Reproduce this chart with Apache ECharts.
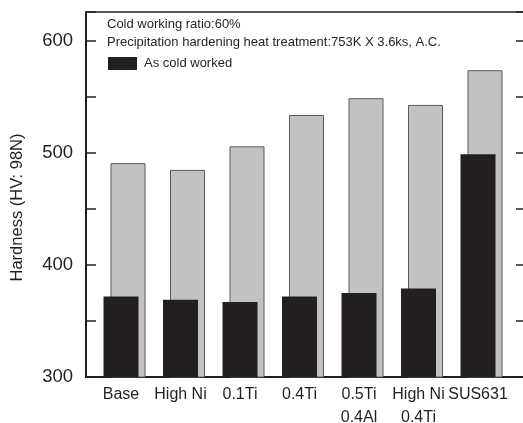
<!DOCTYPE html>
<html>
<head>
<meta charset="utf-8">
<script src="https://cdn.jsdelivr.net/npm/echarts@6/dist/echarts.min.js"></script>
<style>
  html, body { margin: 0; padding: 0; background: #fff; }
  #chart { width: 523px; height: 423px; }
</style>
</head>
<body>
<div id="chart"></div>
<script>
// Alloy designations along the x axis
const categories = ['Base', 'High Ni', '0.1Ti', '0.4Ti', '0.5Ti\n0.4Al', 'High Ni\n0.4Ti', 'SUS631'];
// Vickers hardness after cold working (black bars)
const asColdWorked = [372, 369, 367, 372, 375, 379, 499];
// Vickers hardness after precipitation hardening (grey bars)
const afterAging = [491, 485, 506, 534, 549, 543, 574];
// Hardness axis ticks
const yMin = 300, yMax = 626, yStep = 50, yLabelStep = 100;

const FONT = 'Liberation Sans, Arial, Helvetica, sans-serif';
const INK = '#231f20';

const chart = echarts.init(document.getElementById('chart'), null, { renderer: 'canvas' });

chart.setOption({
  animation: false,
  backgroundColor: '#fff',
  textStyle: { fontFamily: FONT },
  title: {
    text: 'Cold working ratio:60%\nPrecipitation hardening heat treatment:753K X 3.6ks, A.C.',
    left: 107, top: 16, padding: 0,
    textStyle: { fontFamily: FONT, fontSize: 13, fontWeight: 'normal', color: INK, lineHeight: 17.5 }
  },
  legend: {
    data: ['As cold worked'],
    left: 108, top: 57, padding: 0,
    icon: 'rect', itemWidth: 29, itemHeight: 13,
    textStyle: { fontFamily: FONT, fontSize: 13, color: INK, padding: [0, 0, 0, 2] },
    selectedMode: false
  },
  grid: [
    // frame with the axes; the right-hand axis line sits just past the edge
    { left: 86, top: 12, right: -1, bottom: 46, containLabel: false, outerBoundsMode: 'none' },
    // bar area
    { left: 94.75, top: 12, width: 416.5, bottom: 46, containLabel: false, outerBoundsMode: 'none' }
  ],
  xAxis: [
    { gridIndex: 0, type: 'value', min: 0, max: 1, position: 'bottom',
      axisLine: { onZero: false, lineStyle: { color: INK, width: 2 } },
      axisTick: { show: false }, axisLabel: { show: false }, splitLine: { show: false } },
    { gridIndex: 0, type: 'value', min: 0, max: 1, position: 'top',
      axisLine: { onZero: false, lineStyle: { color: INK, width: 1.5 } },
      axisTick: { show: false }, axisLabel: { show: false }, splitLine: { show: false } },
    { gridIndex: 1, type: 'category', data: categories, position: 'bottom',
      axisLine: { show: false, onZero: false }, axisTick: { show: false },
      axisLabel: { fontFamily: FONT, fontSize: 16, color: INK, lineHeight: 23, margin: 6,
                   interval: 0, padding: [0, 7, 0, 0] } }
  ],
  yAxis: [
    { gridIndex: 0, type: 'value', min: yMin, max: yMax, interval: yStep, position: 'left',
      name: 'Hardness (HV: 98N)', nameLocation: 'middle', nameGap: 60,
      nameTextStyle: { fontFamily: FONT, fontSize: 16.5, color: INK, padding: [0, 26, 0, 0] },
      axisLine: { onZero: false, lineStyle: { color: INK, width: 2 } },
      axisTick: { inside: true, length: 10, lineStyle: { color: INK, width: 1.5 } },
      axisLabel: { fontFamily: FONT, fontSize: 18.5, color: INK, margin: 13,
                   formatter: v => (v % yLabelStep === 0 ? String(v) : '') },
      splitLine: { show: false } },
    { gridIndex: 0, type: 'value', min: yMin, max: yMax, interval: yStep, position: 'right',
      axisLine: { onZero: false, lineStyle: { color: INK, width: 2 } },
      axisTick: { inside: true, length: 8, lineStyle: { color: INK, width: 1.5 } },
      axisLabel: { show: false }, splitLine: { show: false } },
    { gridIndex: 1, type: 'value', min: yMin, max: yMax, show: false }
  ],
  series: [
    { name: 'As cold worked', type: 'bar', xAxisIndex: 2, yAxisIndex: 2,
      data: asColdWorked, barWidth: 35, barGap: '-80%', z: 3,
      itemStyle: { color: INK } },
    { name: 'Precipitation hardened', type: 'bar', xAxisIndex: 2, yAxisIndex: 2,
      data: afterAging, barWidth: 35, z: 2,
      itemStyle: { color: '#c2c2c2', borderColor: '#5a5a5a', borderWidth: 1 } }
  ]
});
</script>
</body>
</html>
